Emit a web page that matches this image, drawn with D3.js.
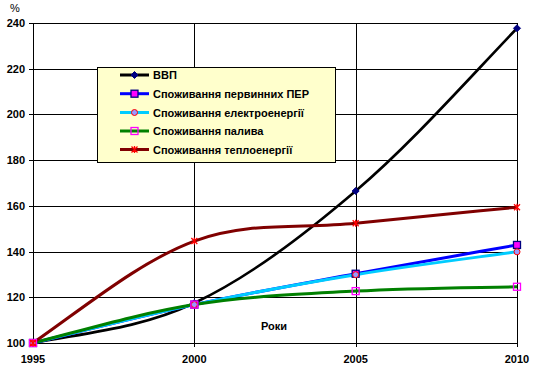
<!DOCTYPE html>
<html><head><meta charset="utf-8">
<script src="https://cdn.jsdelivr.net/npm/d3@7"></script>
<style>
body{margin:0;background:#fff;}
svg{display:block;}
text{font-family:"Liberation Sans",Arial,sans-serif;font-weight:bold;font-size:11px;fill:#000;}
</style></head><body>
<svg id="c" width="536" height="375"></svg>
<script>
const years = [1995, 2000, 2005, 2010];
const yTicks = [100, 120, 140, 160, 180, 200, 220, 240];
const seriesNames = ["ВВП", "Споживання первинних ПЕР", "Споживання електроенергії", "Споживання палива", "Споживання теплоенергії"];
const gdp = [100, 117.5, 166.5, 237.7];
const primary = [100, 116.8, 130.3, 142.9];
const electricity = [100, 116.8, 129.9, 139.9];
const fuel = [100, 116.8, 122.7, 124.6];
const heat = [100, 144.6, 152.4, 159.4];

const series = [
  {name: seriesNames[0], values: gdp, color: "#000000", marker: "diamond", mfill: "#000080", mstroke: "#000080"},
  {name: seriesNames[1], values: primary, color: "#0000FF", marker: "square", mfill: "#FF00FF", mstroke: "#000080"},
  {name: seriesNames[2], values: electricity, color: "#00CCFF", marker: "circle", mfill: "#9999FF", mstroke: "#FF0000"},
  {name: seriesNames[3], values: fuel, color: "#008000", marker: "square", mfill: "none", mstroke: "#FF00FF"},
  {name: seriesNames[4], values: heat, color: "#800000", marker: "star", mfill: "none", mstroke: "#FF0000"}
];

// Excel-like smoothed curve (cubic Hermite, centred interior tangents, softened natural ends)
function ExcelSmooth(context) { this._context = context; }
ExcelSmooth.prototype = {
  areaStart() { this._line = 0; },
  areaEnd() { this._line = NaN; },
  lineStart() { this._pts = []; },
  point(x, y) { this._pts.push([+x, +y]); },
  lineEnd() {
    const p = this._pts, n = p.length, c = this._context;
    if (!n) return;
    c.moveTo(p[0][0], p[0][1]);
    if (n === 1) return;
    if (n === 2) { c.lineTo(p[1][0], p[1][1]); return; }
    const m = new Array(n);
    for (let i = 1; i < n - 1; i++) m[i] = [(p[i + 1][0] - p[i - 1][0]) / 2, (p[i + 1][1] - p[i - 1][1]) / 2];
    const endT = (a, b, mb) => [0, 1].map(k => 1.25 * (b[k] - a[k]) - mb[k] / 4);
    m[0] = endT(p[0], p[1], m[1]);
    const e = endT(p[n - 1], p[n - 2], m[n - 2].map(v => -v));
    m[n - 1] = e.map(v => -v);
    for (let i = 0; i < n - 1; i++) {
      c.bezierCurveTo(p[i][0] + m[i][0] / 3, p[i][1] + m[i][1] / 3,
        p[i + 1][0] - m[i + 1][0] / 3, p[i + 1][1] - m[i + 1][1] / 3,
        p[i + 1][0], p[i + 1][1]);
    }
  }
};
const excelSmooth = ctx => new ExcelSmooth(ctx);

const svg = d3.select("#c");
const L = 33, R = 517, T = 23, B = 343;
const x = d3.scaleLinear().domain([1995, 2010]).range([L, R]);
const y = d3.scaleLinear().domain([100, 240]).range([B, T]);

// gridlines
const g = svg.append("g");
g.selectAll("line.h").data(yTicks).enter().append("line")
  .attr("x1", L - 4).attr("x2", R).attr("y1", d => Math.round(y(d)) + 0.5).attr("y2", d => Math.round(y(d)) + 0.5)
  .attr("stroke", "#000").attr("stroke-width", 1);
g.selectAll("line.v").data(years).enter().append("line")
  .attr("x1", d => Math.round(x(d)) + 0.5).attr("x2", d => Math.round(x(d)) + 0.5)
  .attr("y1", T).attr("y2", B + 4)
  .attr("stroke", "#000").attr("stroke-width", 1);

// axis labels
g.selectAll("text.yl").data(yTicks).enter().append("text")
  .attr("x", 25).attr("y", d => y(d) + 4).attr("text-anchor", "end").text(d => d);
g.selectAll("text.xl").data(years).enter().append("text")
  .attr("x", d => x(d)).attr("y", 363).attr("text-anchor", "middle").text(d => d);
svg.append("text").attr("x", 15).attr("y", 12).attr("text-anchor", "middle")
  .style("font-weight", "normal").text("%");
svg.append("text").attr("x", 274).attr("y", 330).attr("text-anchor", "middle").text("Роки");

// lines
const line = d3.line().x((d, i) => x(years[i])).y(d => y(d)).curve(excelSmooth);
series.forEach(s => {
  svg.append("path").attr("d", line(s.values)).attr("fill", "none")
    .attr("stroke", s.color).attr("stroke-width", s.color === "#000000" ? 2.6 : 3);
});

function drawMarker(sel, type, cx, cy, fill, stroke) {
  const r = 3.5;
  if (type === "diamond") {
    sel.append("path").attr("d", `M${cx},${cy - r}L${cx + r},${cy}L${cx},${cy + r}L${cx - r},${cy}Z`)
      .attr("fill", fill).attr("stroke", stroke);
  } else if (type === "square") {
    sel.append("rect").attr("x", cx - 3.5).attr("y", cy - 3.5).attr("width", 7).attr("height", 7)
      .attr("fill", fill === "none" ? "none" : fill).attr("stroke", stroke).attr("stroke-width", 1.3);
  } else if (type === "circle") {
    sel.append("circle").attr("cx", cx).attr("cy", cy).attr("r", 3)
      .attr("fill", fill).attr("stroke", stroke).attr("stroke-width", 1);
  } else if (type === "star") {
    sel.append("path").attr("d", `M${cx - 3},${cy - 3}L${cx + 3},${cy + 3}M${cx - 3},${cy + 3}L${cx + 3},${cy - 3}M${cx},${cy - 3.5}L${cx},${cy + 3.5}`)
      .attr("stroke", stroke).attr("stroke-width", 1.3).attr("fill", "none");
  }
}

series.forEach(s => {
  const mg = svg.append("g");
  s.values.forEach((v, i) => drawMarker(mg, s.marker, x(years[i]), y(v), s.mfill, s.mstroke));
});

// legend
const lg = svg.append("g");
lg.append("rect").attr("x", 97.5).attr("y", 67.5).attr("width", 238).attr("height", 95)
  .attr("fill", "#FFFFCC").attr("stroke", "#000").attr("stroke-width", 1);
const rowY = [75, 93.7, 112.5, 131, 149.5];
const texts = [];
series.forEach((s, i) => {
  lg.append("line").attr("x1", 120).attr("x2", 149).attr("y1", rowY[i]).attr("y2", rowY[i])
    .attr("stroke", s.color).attr("stroke-width", 3);
  drawMarker(lg, s.marker, 134.5, rowY[i], s.mfill, s.mstroke);
  texts.push(lg.append("text").attr("x", 153).attr("y", rowY[i] + 4).text(s.name));
});
// fit legend font so the longest entry spans about the same width as in the original
const longest = texts[1].node().getComputedTextLength();
const fs = Math.min(11, 11 * 158 / longest);
texts.forEach(t => t.style("font-size", fs + "px"));
</script>
</body></html>
